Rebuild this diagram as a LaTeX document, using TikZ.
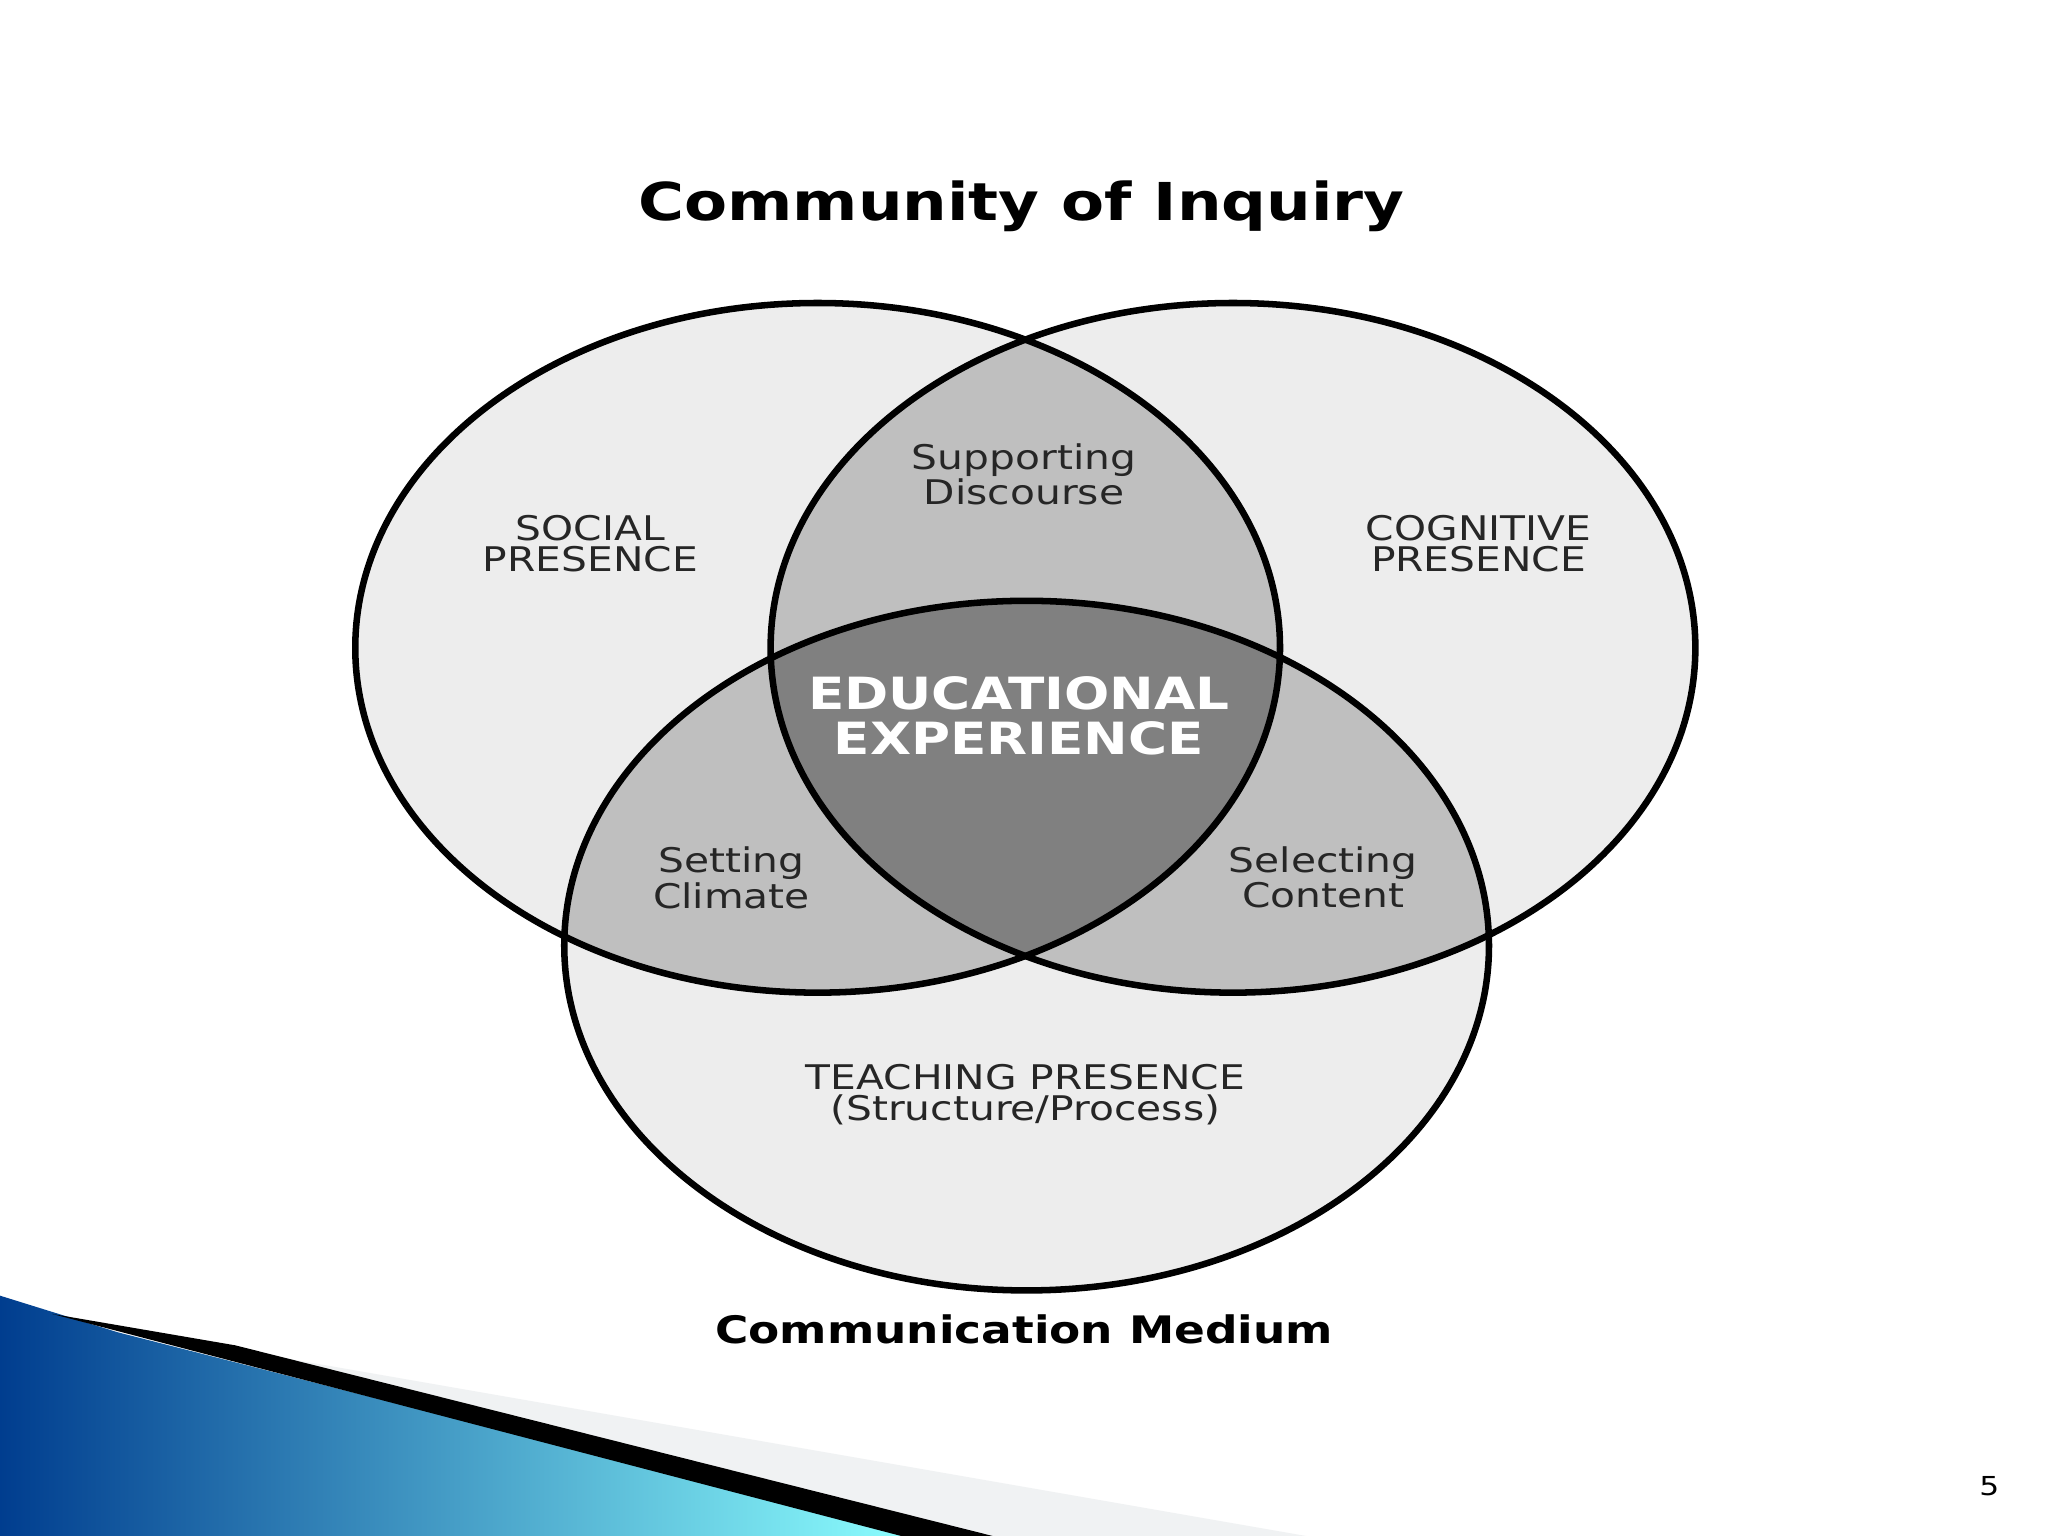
\documentclass[tikz,border=0pt]{standalone}
\usepackage{fontspec}
\setmainfont[FakeStretch=1.2]{DejaVu Sans}
\begin{document}
\begin{tikzpicture}[x=0.5pt,y=0.5pt,
  lab/.style={align=center,font=\fontsize{13}{12}\selectfont,text=black!85},
  ol/.style={draw=black,line width=2.5pt}]
\useasboundingbox (0,0) rectangle (1568,1176);
\fill[white] (0,0) rectangle (1568,1176);
% swoosh
\shade[left color=teal!60!blue!80!black, right color=cyan!45!white] (0,184)--(90,156)--(700,0)--(0,0)--cycle;
\fill[cyan!10!gray!12] (150,148)--(1000,0)--(740,0)--cycle;
\fill[black] (40,170)--(180,146)--(760,0)--(690,0)--cycle;
% ellipses
\def\L{(626,680) ellipse [x radius=354,y radius=264]}
\def\R{(944,680) ellipse [x radius=354,y radius=264]}
\def\B{(786,452) ellipse [x radius=354,y radius=264]}
\fill[gray!14] \L; \fill[gray!14] \R; \fill[gray!14] \B;
\begin{scope}\clip \L; \fill[gray!50] \R; \fill[gray!50] \B;\end{scope}
\begin{scope}\clip \R; \fill[gray!50] \B;\end{scope}
\begin{scope}\clip \L; \clip \R; \fill[black!50] \B;\end{scope}
\draw[ol] \L; \draw[ol] \R; \draw[ol] \B;
% texts
\node (title) at (782,1018) {\fontsize{20}{24}\selectfont\bfseries Community of Inquiry};
\node[lab] (soc) at (452,760) {SOCIAL\\PRESENCE};
\node[lab] (cog) at (1132,760) {COGNITIVE\\PRESENCE};
\node[lab] (sup) at (784,813) {Supporting\\Discourse};
\node[align=center,text=white,font=\fontsize{17}{17}\selectfont\bfseries] (edu) at (780,628) {EDUCATIONAL\\EXPERIENCE};
\node[lab] (set) at (560,504) {Setting\\Climate};
\node[lab] (sel) at (1013,504) {Selecting\\Content};
\node[lab] (tea) at (785,338) {TEACHING PRESENCE\\(Structure/Process)};
\node (med) at (784,158) {\fontsize{14.5}{18}\selectfont\bfseries Communication Medium};
\node (pg) at (1523,38) {\fontsize{10}{12}\selectfont 5};
\end{tikzpicture}
\end{document}
